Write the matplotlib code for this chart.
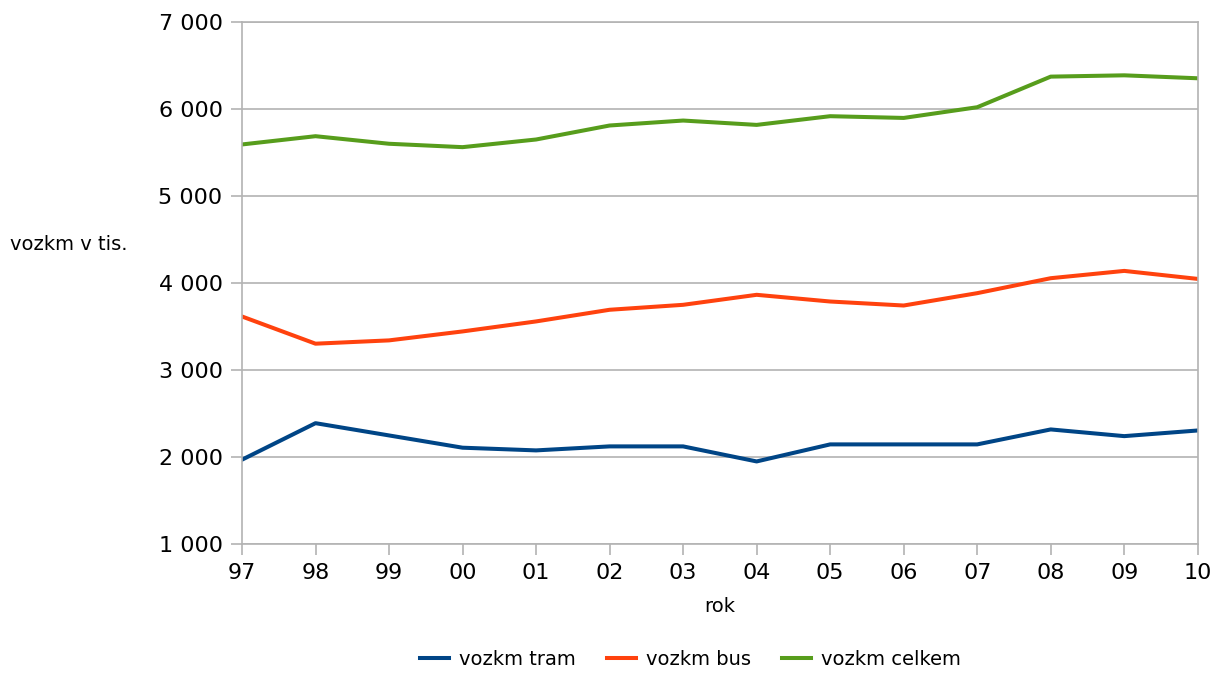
import matplotlib.pyplot as plt
from matplotlib.ticker import FuncFormatter

plt.rcParams['font.family'] = ['DejaVu Sans']

years = ['97', '98', '99', '00', '01', '02', '03', '04', '05', '06', '07', '08', '09', '10']
tram = [1970, 2390, 2249, 2108, 2077, 2123, 2123, 1950, 2146, 2146, 2146, 2318, 2241, 2306]
bus = [3617, 3304, 3342, 3445, 3560, 3694, 3751, 3866, 3789, 3743, 3885, 4057, 4141, 4049]
celkem = [5595, 5690, 5603, 5564, 5652, 5813, 5870, 5820, 5920, 5900, 6023, 6375, 6390, 6356]

fig = plt.figure(figsize=(12.16, 6.75), dpi=100)
ax = fig.add_axes([0.199, 0.194, 0.786, 0.773])

x = range(len(years))
ax.plot(x, tram, color='#004586', lw=2.9, label='vozkm tram')
ax.plot(x, bus, color='#ff420e', lw=2.9, label='vozkm bus')
ax.plot(x, celkem, color='#579d1c', lw=2.9, label='vozkm celkem')

ax.set_xlim(0, len(years) - 1)
ax.set_ylim(1000, 7000)
ax.set_xticks(list(x))
ax.set_xticklabels(years)
ax.set_yticks(range(1000, 7001, 1000))
ax.yaxis.set_major_formatter(FuncFormatter(lambda v, p: f'{int(v):,}'.replace(',', ' ')))

ax.grid(axis='y', color='#b3b3b3', lw=1.2)
ax.set_axisbelow(True)
for s in ax.spines.values():
    s.set_color('#b3b3b3')
    s.set_linewidth(1.2)
ax.tick_params(axis='both', direction='out', length=8, width=1.2, color='#b3b3b3',
               labelsize=16, pad=6)

ax.set_xlabel('rok', fontsize=14, labelpad=10)
ax.set_ylabel('vozkm v tis.', fontsize=14, rotation=0, ha='left', va='center')
ax.yaxis.set_label_coords(-0.243, 0.575)

ax.legend(loc='upper center', bbox_to_anchor=(0.469, -0.17), ncol=3, frameon=False,
          fontsize=14, handlelength=1.5, handletextpad=0.5, columnspacing=1.6)

fig.savefig('out.png', dpi=100)
